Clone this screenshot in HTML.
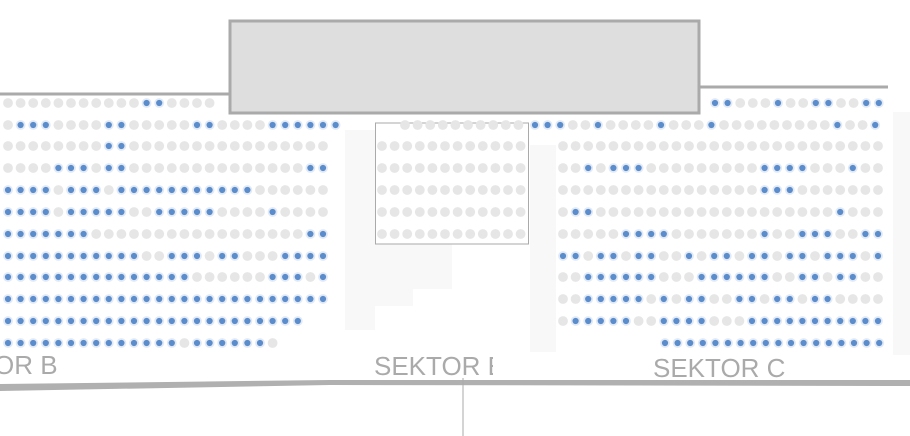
<!DOCTYPE html>
<html><head><meta charset="utf-8"><style>
html,body{margin:0;padding:0;background:#fff;width:910px;height:436px;overflow:hidden}
svg{display:block}
text{font-family:"Liberation Sans",sans-serif;font-size:26px;fill:#aaa}
</style></head><body>
<svg id="s" width="910" height="436" viewBox="0 0 910 436">
<rect x="345" y="130" width="30" height="200" fill="#f8f8f8"/>
<rect x="375" y="244" width="77" height="45" fill="#f8f8f8"/>
<rect x="375" y="289" width="38" height="17" fill="#f8f8f8"/>
<rect x="530" y="145" width="26" height="207" fill="#f8f8f8"/>
<rect x="893" y="112" width="17" height="243" fill="#f8f8f8"/>
<line x1="0" y1="94" x2="229" y2="94" stroke="#aaa" stroke-width="3"/>
<line x1="700" y1="87" x2="888" y2="87" stroke="#aaa" stroke-width="3"/>
<rect x="230" y="21" width="469" height="92" fill="#dedede" stroke="#aaa" stroke-width="3"/>
<rect x="375.5" y="123" width="153" height="121" fill="none" stroke="#aaa" stroke-width="1"/>
<g id="d"></g>
<polygon points="0,384 330,380 910,380 910,386 330,385 0,391" fill="#b0b0b0"/>
<line x1="463" y1="378" x2="463" y2="436" stroke="#aaa" stroke-width="1"/>
<text x="-6" y="374">OR B</text>
<svg x="0" y="0" width="493" height="436"><text x="374" y="375">SEKTOR E</text></svg>
<text x="653" y="377">SEKTOR C</text>
</svg>
<script>
var rows=[
[8,103,"oooooooooooxxoooo"],
[8,125,"oxxxooooxxoooooxxooooxxxxxx"],
[8,146,"ooooooooxxoooooooooooooooo"],
[8,168,"ooooxxxoxxooooooooooooooxx"],
[8,190,"xxxxoxxxoxxxxxxxxxxxoooooo"],
[8,212,"xxxxoxxxxxooxxxxxooooxoooo"],
[8,234,"xxxxxxxoooooooooooooooooxx"],
[8,256,"xxxxxxxxxxxooxxxoxxoooxxxx"],
[8,277,"xxxxxxxxxxxxxxxooooooxxxox"],
[8,299,"xxxxxxxxxxxxxxxxxxxxxxxxxx"],
[8,321,"xxxxxxxxxxxxxxxxxxxxxxxx"],
[8,343,"xxxxxxxxxxxxxxoxxxxxxo"],
[405,125,"oooooooooo"],
[382,146,"oooooooooooo"],[382,168,"oooooooooooo"],[382,190,"oooooooooooo"],[382,212,"oooooooooooo"],[382,234,"oooooooooooo"],
[715,103,"xxoooxooxxooxx"],
[535,125,"xxxooxooooxoooxoooooooooxoox"],
[563,146,"oooooooooooooooooooooooooo"],
[563,168,"ooxoxxxoooooooooxxxxoooxoo"],
[563,190,"ooooooooooooooooxxxooooooo"],
[563,212,"oxxoooooooooooooooooooxooo"],
[563,234,"oooooxxxxoooooooxooxxxooxx"],
[563,256,"xxoxxoxxooxoxxoxxoxxoxxxox"],
[563,277,"ooxxxxxxoooxxxxxxooxxoxxoo"],
[563,299,"ooxxxxxoxoxxooxxoxxoxxoooo"],
[563,321,"oxxxxxooxxxxoooxxxxxxxxxxx"],
[665,343,"xxxxxxxxxxxxxxxxxx"]
];
var h="";
rows.forEach(function(r){for(var i=0;i<r[2].length;i++){var x=(r[0]+i*12.6).toFixed(1),y=r[1];
if(r[2][i]=="x")h+='<circle cx="'+x+'" cy="'+y+'" r="4.9" fill="#e2eaf5"/><circle cx="'+x+'" cy="'+y+'" r="3.1" fill="#5b8ccc"/>';
else h+='<circle cx="'+x+'" cy="'+y+'" r="4.9" fill="#e6e6e6"/>';}});
document.getElementById("d").innerHTML=h;
</script>
</body></html>
